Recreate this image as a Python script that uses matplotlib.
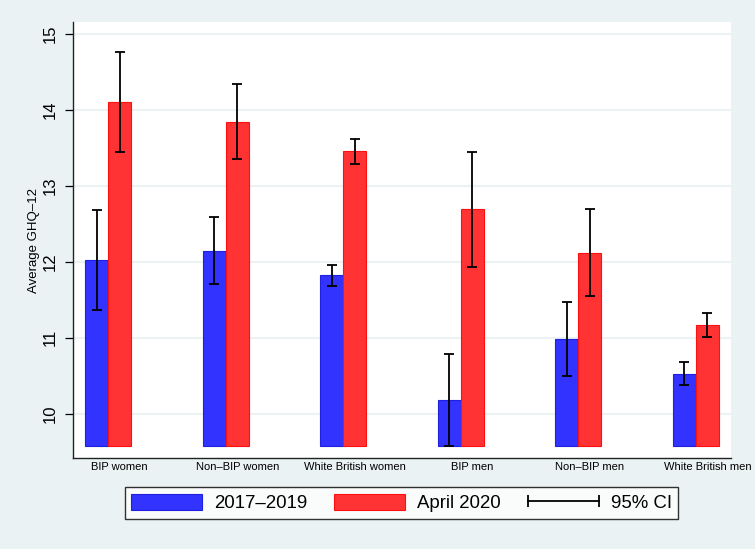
#!/usr/bin/env python3
"""Average GHQ-12 by group: 2017-2019 vs April 2020, with 95% CIs."""
import numpy as np
import matplotlib

matplotlib.use("Agg")
import matplotlib.pyplot as plt
from matplotlib.patches import Patch
from matplotlib.lines import Line2D
from matplotlib.legend_handler import HandlerLine2D

GROUPS = ["BIP women", "Non\u2013BIP women", "White British women",
          "BIP men", "Non\u2013BIP men", "White British men"]

PRE_MEAN = [12.03, 12.14, 11.82, 10.18, 10.99, 10.53]
PRE_LO = [11.37, 11.71, 11.68, 9.58, 10.50, 10.38]
PRE_HI = [12.68, 12.59, 11.96, 10.79, 11.47, 10.68]

APR_MEAN = [14.10, 13.84, 13.46, 12.69, 12.12, 11.17]
APR_LO = [13.44, 13.35, 13.29, 11.93, 11.55, 11.01]
APR_HI = [14.76, 14.34, 13.61, 13.45, 12.70, 11.33]

BASE = 9.58
BG = "#EAF2F3"
BLUE, BLUE_EDGE = "#3333FF", "#2020E0"
RED, RED_EDGE = "#FF3333", "#FF1010"

plt.rcParams["font.family"] = ["Liberation Sans", "DejaVu Sans"]


def main():
    fig = plt.figure(figsize=(7.55, 5.49), dpi=100, facecolor=BG)
    ax = fig.add_axes([0.0967, 0.1658, 0.8713, 0.7936])
    ax.set_facecolor("white")

    x = np.arange(len(GROUPS))
    w = 0.196
    pre = np.array(PRE_MEAN)
    apr = np.array(APR_MEAN)

    ax.bar(x - w / 2, pre - BASE, w, bottom=BASE, color=BLUE,
           edgecolor=BLUE_EDGE, lw=0.8, zorder=2)
    ax.bar(x + w / 2, apr - BASE, w, bottom=BASE, color=RED,
           edgecolor=RED_EDGE, lw=0.8, zorder=2)

    for xs, m, lo, hi in [(x - w / 2, pre, PRE_LO, PRE_HI),
                          (x + w / 2, apr, APR_LO, APR_HI)]:
        yerr = np.vstack([m - np.array(lo), np.array(hi) - m])
        ax.errorbar(xs, m, yerr=yerr, fmt="none", ecolor="black",
                    elinewidth=1.3, capsize=3.6, capthick=1.3, zorder=3)

    ax.set_xlim(-0.298, 5.298)
    ax.set_ylim(9.42, 15.15)
    ax.set_yticks([10, 11, 12, 13, 14, 15])
    ax.set_yticklabels(["10", "11", "12", "13", "14", "15"],
                       rotation=90, va="center", fontsize=12)
    # group labels sit a little right of the bar pair, as in the source
    ax.set_xticks(x + 0.1)
    ax.set_xticklabels(GROUPS, fontsize=8)
    ax.tick_params(axis="x", length=0, pad=3)
    ax.tick_params(axis="y", length=6, width=0.9, pad=5)
    ax.set_ylabel("Average GHQ\u201312", fontsize=9.5, labelpad=2)

    ax.grid(axis="y", color=BG, lw=1.5, zorder=0)
    ax.set_axisbelow(True)
    for s in ("top", "right"):
        ax.spines[s].set_visible(False)
    for s in ("left", "bottom"):
        ax.spines[s].set_linewidth(1.0)
        ax.spines[s].set_color("#222222")

    ci = Line2D([], [], color="black", lw=1.3, marker="|",
                markersize=8, markeredgewidth=1.3)
    handles = [Patch(facecolor=BLUE, edgecolor=BLUE_EDGE, lw=0.8),
               Patch(facecolor=RED, edgecolor=RED_EDGE, lw=0.8), ci]
    leg = fig.legend(handles, ["2017\u20132019", "April 2020", "95% CI"],
                     loc="center", bbox_to_anchor=(0.532, 0.0838), ncol=3,
                     fontsize=13.4, numpoints=2, frameon=True, fancybox=False,
                     edgecolor="black", handlelength=3.8, handleheight=0.95,
                     handletextpad=0.65, columnspacing=1.45,
                     borderpad=0.35, borderaxespad=0,
                     handler_map={ci: HandlerLine2D(marker_pad=0)})
    leg.get_frame().set_linewidth(1.0)
    leg.get_frame().set_facecolor("white")

    fig.savefig("out.png", dpi=100, facecolor=BG)


if __name__ == "__main__":
    main()
